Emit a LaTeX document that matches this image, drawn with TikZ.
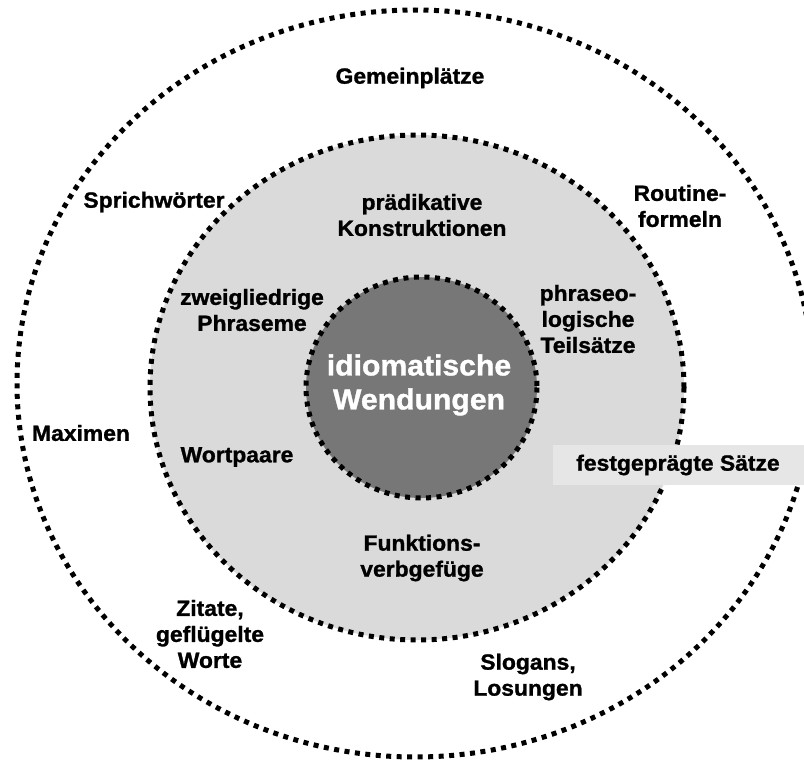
\documentclass[tikz,border=0pt]{standalone}
\usepackage{fontspec}
\setmainfont{Liberation Sans}[FakeStretch=1.04, BoldFeatures={FakeBold=1.2}]
\definecolor{midgray}{HTML}{DADADA}
\definecolor{coregray}{HTML}{777777}
\definecolor{boxgray}{HTML}{E6E6E6}
\tikzset{
  dotline/.style={line width=5pt, dash pattern=on 5pt off 5.5pt},
  lbl/.style={font=\bfseries\fontsize{22}{26}\selectfont, align=center, inner sep=0pt},
  core/.style={font=\bfseries\fontsize{29}{34}\selectfont, align=center, text=white, inner sep=0pt}
}
\begin{document}
\begin{tikzpicture}[x=1pt,y=-1pt]
\useasboundingbox (0,0) rectangle (804,760);
\begin{scope}
  \clip (0,0) rectangle (804,760);
  \fill[white] (0,0) rectangle (804,760);
  \draw[dotline, fill=white] (415,383.5) ellipse [x radius=398, y radius=373.5];
  \draw[dotline, fill=midgray] (417,387.5) ellipse [x radius=267, y radius=252.5];
  \draw[dotline, fill=coregray] (421.5,387.5) ellipse [x radius=115.5, y radius=110.5];
  \fill[boxgray] (553,445) rectangle (804,485);
\end{scope}
\node[core] (idiom) at (419,385) {idiomatische\\Wendungen};
\node[lbl] (gemein) at (410,78) {Gemeinplätze};
\node[lbl] (sprich) at (154,202) {Sprichwörter};
\node[lbl] (routine) at (680,206) {Routine-\\formeln};
\node[lbl] (praed) at (422,215) {prädikative\\Konstruktionen};
\node[lbl] (zwei) at (252,310) {zweigliedrige\\Phraseme};
\node[lbl] (phras) at (588,319) {phraseo-\\logische\\Teilsätze};
\node[lbl] (maxim) at (81,433) {Maximen};
\node[lbl] (wort) at (237,457) {Wortpaare};
\node[lbl] (fest) at (678,465) {festgeprägte Sätze};
\node[lbl] (funk) at (422,558) {Funktions-\\verbgefüge};
\node[lbl] (zitat) at (210,634) {Zitate,\\geflügelte\\Worte};
\node[lbl] (slogan) at (528,677) {Slogans,\\Losungen};
\end{tikzpicture}
\end{document}
